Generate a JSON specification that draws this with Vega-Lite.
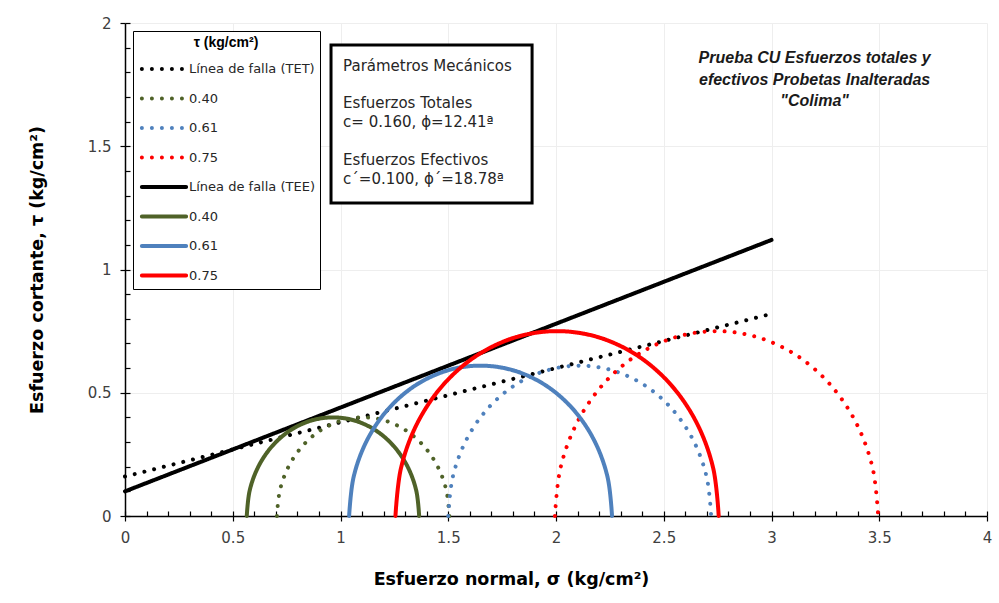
{
  "$schema": "https://vega.github.io/schema/vega-lite/v6.json",
  "width": 862,
  "height": 493,
  "autosize": {"type": "none"},
  "padding": {"left": 125, "top": 23, "right": 12, "bottom": 87},
  "background": "white",
  "config": {"view": {"stroke": null}, "font": "DejaVu Sans"},
  "datasets": {
    "lines": [
      {"s": "Línea de falla (TET)", "x": 0, "y": 0.16},
      {"s": "Línea de falla (TET)", "x": 3, "y": 0.82},
      {"s": "Línea de falla (TEE)", "x": 0, "y": 0.10},
      {"s": "Línea de falla (TEE)", "x": 3, "y": 1.12},
      {"s": "0.40 total", "x": 1.505, "y": 0},
      {"s": "0.40 total", "x": 1.4914, "y": 0.1035},
      {"s": "0.40 total", "x": 1.4514, "y": 0.2},
      {"s": "0.40 total", "x": 1.3878, "y": 0.2828},
      {"s": "0.40 total", "x": 1.305, "y": 0.3464},
      {"s": "0.40 total", "x": 1.2085, "y": 0.3864},
      {"s": "0.40 total", "x": 1.105, "y": 0.4},
      {"s": "0.40 total", "x": 1.0015, "y": 0.3864},
      {"s": "0.40 total", "x": 0.905, "y": 0.3464},
      {"s": "0.40 total", "x": 0.8222, "y": 0.2828},
      {"s": "0.40 total", "x": 0.7586, "y": 0.2},
      {"s": "0.40 total", "x": 0.7186, "y": 0.1035},
      {"s": "0.40 total", "x": 0.705, "y": 0},
      {"s": "0.61 total", "x": 2.72, "y": 0},
      {"s": "0.61 total", "x": 2.6992, "y": 0.1579},
      {"s": "0.61 total", "x": 2.6383, "y": 0.305},
      {"s": "0.61 total", "x": 2.5413, "y": 0.4313},
      {"s": "0.61 total", "x": 2.415, "y": 0.5283},
      {"s": "0.61 total", "x": 2.2679, "y": 0.5892},
      {"s": "0.61 total", "x": 2.11, "y": 0.61},
      {"s": "0.61 total", "x": 1.9521, "y": 0.5892},
      {"s": "0.61 total", "x": 1.805, "y": 0.5283},
      {"s": "0.61 total", "x": 1.6787, "y": 0.4313},
      {"s": "0.61 total", "x": 1.5817, "y": 0.305},
      {"s": "0.61 total", "x": 1.5208, "y": 0.1579},
      {"s": "0.61 total", "x": 1.5, "y": 0},
      {"s": "0.75 total", "x": 3.495, "y": 0},
      {"s": "0.75 total", "x": 3.4694, "y": 0.1941},
      {"s": "0.75 total", "x": 3.3945, "y": 0.375},
      {"s": "0.75 total", "x": 3.2753, "y": 0.5303},
      {"s": "0.75 total", "x": 3.12, "y": 0.6495},
      {"s": "0.75 total", "x": 2.9391, "y": 0.7244},
      {"s": "0.75 total", "x": 2.745, "y": 0.75},
      {"s": "0.75 total", "x": 2.5509, "y": 0.7244},
      {"s": "0.75 total", "x": 2.37, "y": 0.6495},
      {"s": "0.75 total", "x": 2.2147, "y": 0.5303},
      {"s": "0.75 total", "x": 2.0955, "y": 0.375},
      {"s": "0.75 total", "x": 2.0206, "y": 0.1941},
      {"s": "0.75 total", "x": 1.995, "y": 0},
      {"s": "0.40 efectivo", "x": 1.365, "y": 0},
      {"s": "0.40 efectivo", "x": 1.3514, "y": 0.1035},
      {"s": "0.40 efectivo", "x": 1.3114, "y": 0.2},
      {"s": "0.40 efectivo", "x": 1.2478, "y": 0.2828},
      {"s": "0.40 efectivo", "x": 1.165, "y": 0.3464},
      {"s": "0.40 efectivo", "x": 1.0685, "y": 0.3864},
      {"s": "0.40 efectivo", "x": 0.965, "y": 0.4},
      {"s": "0.40 efectivo", "x": 0.8615, "y": 0.3864},
      {"s": "0.40 efectivo", "x": 0.765, "y": 0.3464},
      {"s": "0.40 efectivo", "x": 0.6822, "y": 0.2828},
      {"s": "0.40 efectivo", "x": 0.6186, "y": 0.2},
      {"s": "0.40 efectivo", "x": 0.5786, "y": 0.1035},
      {"s": "0.40 efectivo", "x": 0.565, "y": 0},
      {"s": "0.61 efectivo", "x": 2.26, "y": 0},
      {"s": "0.61 efectivo", "x": 2.2392, "y": 0.1579},
      {"s": "0.61 efectivo", "x": 2.1783, "y": 0.305},
      {"s": "0.61 efectivo", "x": 2.0813, "y": 0.4313},
      {"s": "0.61 efectivo", "x": 1.955, "y": 0.5283},
      {"s": "0.61 efectivo", "x": 1.8079, "y": 0.5892},
      {"s": "0.61 efectivo", "x": 1.65, "y": 0.61},
      {"s": "0.61 efectivo", "x": 1.4921, "y": 0.5892},
      {"s": "0.61 efectivo", "x": 1.345, "y": 0.5283},
      {"s": "0.61 efectivo", "x": 1.2187, "y": 0.4313},
      {"s": "0.61 efectivo", "x": 1.1217, "y": 0.305},
      {"s": "0.61 efectivo", "x": 1.0608, "y": 0.1579},
      {"s": "0.61 efectivo", "x": 1.04, "y": 0},
      {"s": "0.75 efectivo", "x": 2.755, "y": 0},
      {"s": "0.75 efectivo", "x": 2.7294, "y": 0.1941},
      {"s": "0.75 efectivo", "x": 2.6545, "y": 0.375},
      {"s": "0.75 efectivo", "x": 2.5353, "y": 0.5303},
      {"s": "0.75 efectivo", "x": 2.38, "y": 0.6495},
      {"s": "0.75 efectivo", "x": 2.1991, "y": 0.7244},
      {"s": "0.75 efectivo", "x": 2.005, "y": 0.75},
      {"s": "0.75 efectivo", "x": 1.8109, "y": 0.7244},
      {"s": "0.75 efectivo", "x": 1.63, "y": 0.6495},
      {"s": "0.75 efectivo", "x": 1.4747, "y": 0.5303},
      {"s": "0.75 efectivo", "x": 1.3555, "y": 0.375},
      {"s": "0.75 efectivo", "x": 1.2806, "y": 0.1941},
      {"s": "0.75 efectivo", "x": 1.255, "y": 0}
    ],
    "box": [
      {"x1": 0.956, "x2": 1.889, "y1": 1.27, "y2": 1.911}
    ],
    "boxtext": [
      {"x": 1.012, "y": 1.8256, "text": "Parámetros Mecánicos"},
      {"x": 1.012, "y": 1.6755, "text": "Esfuerzos Totales\nc= 0.160, ϕ=12.41ª"},
      {"x": 1.012, "y": 1.4442, "text": "Esfuerzos Efectivos\nc´=0.100, ϕ´=18.78ª"}
    ],
    "title": [
      {"x": 3.2, "y": 1.858, "text": "Prueba CU Esfuerzos totales y\nefectivos Probetas Inalteradas\n\"Colima\""}
    ]
  },
  "resolve": {"axis": {"x": "independent", "y": "independent"}},
  "layer": [
    {
      "data": {"name": "lines"},
      "mark": {"type": "line", "strokeCap": "round", "interpolate": "cardinal"},
      "encoding": {
        "x": {
          "field": "x", "type": "quantitative",
          "scale": {"domain": [0, 4], "nice": false, "zero": false},
          "axis": {
            "orient": "bottom",
            "values": [0, 0.5, 1, 1.5, 2, 2.5, 3, 3.5, 4],
            "format": ".2~f",
            "tickSize": 5, "tickColor": "black", "tickWidth": 1.2,
            "domainColor": "black", "domainWidth": 1.5,
            "labelFontSize": 15, "labelColor": "#404040", "labelPadding": 9,
            "labelFlush": false, "labelOverlap": false,
            "grid": true, "gridColor": "#eeeeee", "gridWidth": 1,
            "title": "Esfuerzo normal, σ (kg/cm²)",
            "titleFontSize": 17.5, "titleFontWeight": "bold", "titleColor": "black",
            "titlePadding": 25, "titleX": 386
          }
        },
        "y": {
          "field": "y", "type": "quantitative",
          "scale": {"domain": [0, 2], "nice": false, "zero": false},
          "axis": {
            "orient": "left",
            "values": [0, 0.5, 1, 1.5, 2],
            "format": ".2~f",
            "tickSize": 5, "tickColor": "black", "tickWidth": 1.2,
            "domainColor": "black", "domainWidth": 1.5,
            "labelFontSize": 15, "labelColor": "#404040", "labelPadding": 9,
            "labelFlush": false, "labelOverlap": false,
            "grid": true, "gridColor": "#eeeeee", "gridWidth": 1,
            "title": "Esfuerzo cortante, τ (kg/cm²)",
            "titleFontSize": 17.5, "titleFontWeight": "bold", "titleColor": "black",
            "titlePadding": 41
          }
        },
        "color": {
          "field": "s", "type": "nominal",
          "scale": {
            "domain": ["Línea de falla (TET)", "0.40 total", "0.61 total", "0.75 total", "Línea de falla (TEE)", "0.40 efectivo", "0.61 efectivo", "0.75 efectivo"],
            "range": ["#000000", "#4F6228", "#4F81BD", "#FF0000", "#000000", "#4F6228", "#4F81BD", "#FF0000"]
          },
          "legend": {
            "title": "τ (kg/cm²)",
            "orient": "top-left",
            "offset": 8,
            "labelExpr": "replace(replace(datum.label, ' total', ''), ' efectivo', '')",
            "strokeColor": "black",
            "fillColor": "white",
            "padding": 5,
            "symbolType": "M-1.5,0H1.5",
            "symbolSize": 870,
            "symbolOffset": 9,
            "labelOffset": 8,
            "rowPadding": 4.5,
            "titlePadding": 2,
            "labelFontSize": 13,
            "labelColor": "#262626",
            "titleFontSize": 14,
            "titleFontWeight": "bold",
            "titleFont": "Liberation Sans",
            "titleAnchor": "middle",
            "titleColor": "black",
            "encode": {"symbols": {"update": {"strokeCap": {"value": "round"}, "fill": {"value": "transparent"}}}}
          }
        },
        "strokeDash": {
          "field": "s", "type": "nominal",
          "scale": {
            "domain": ["Línea de falla (TET)", "0.40 total", "0.61 total", "0.75 total", "Línea de falla (TEE)", "0.40 efectivo", "0.61 efectivo", "0.75 efectivo"],
            "range": [[0.01, 10], [0.01, 10], [0.01, 10], [0.01, 10], [1, 0], [1, 0], [1, 0], [1, 0]]
          }
        },
        "strokeWidth": {
          "field": "s", "type": "nominal",
          "scale": {
            "domain": ["Línea de falla (TET)", "0.40 total", "0.61 total", "0.75 total", "Línea de falla (TEE)", "0.40 efectivo", "0.61 efectivo", "0.75 efectivo"],
            "range": [4, 4, 4, 4, 3.5, 3.5, 3.5, 3.5]
          }
        }
      }
    },
    {
      "data": {"name": "box"},
      "mark": {"type": "rect", "fill": "white", "stroke": "black", "strokeWidth": 3},
      "encoding": {
        "x": {
          "field": "x1", "type": "quantitative",
          "scale": {"domain": [0, 4], "nice": false, "zero": false},
          "axis": {
            "orient": "bottom",
            "values": [0, 0.1, 0.2, 0.3, 0.4, 0.5, 0.6, 0.7, 0.8, 0.9, 1, 1.1, 1.2, 1.3, 1.4, 1.5, 1.6, 1.7, 1.8, 1.9, 2, 2.1, 2.2, 2.3, 2.4, 2.5, 2.6, 2.7, 2.8, 2.9, 3, 3.1, 3.2, 3.3, 3.4, 3.5, 3.6, 3.7, 3.8, 3.9, 4],
            "tickSize": -5, "tickColor": "black", "tickWidth": 1.2,
            "labels": false, "domain": false, "grid": false, "title": null
          }
        },
        "x2": {"field": "x2"},
        "y": {
          "field": "y1", "type": "quantitative",
          "scale": {"domain": [0, 2], "nice": false, "zero": false},
          "axis": {
            "orient": "left",
            "values": [0, 0.1, 0.2, 0.3, 0.4, 0.5, 0.6, 0.7, 0.8, 0.9, 1, 1.1, 1.2, 1.3, 1.4, 1.5, 1.6, 1.7, 1.8, 1.9, 2],
            "tickSize": -5, "tickColor": "black", "tickWidth": 1.2,
            "labels": false, "domain": false, "grid": false, "title": null
          }
        },
        "y2": {"field": "y2"}
      }
    },
    {
      "data": {"name": "boxtext"},
      "mark": {"type": "text", "align": "left", "baseline": "middle", "lineBreak": "\n", "lineHeight": 18.8, "fontSize": 15, "color": "#262626", "font": "DejaVu Sans"},
      "encoding": {
        "x": {"field": "x", "type": "quantitative", "axis": null},
        "y": {"field": "y", "type": "quantitative", "axis": null},
        "text": {"field": "text"}
      }
    },
    {
      "data": {"name": "title"},
      "mark": {"type": "text", "align": "center", "baseline": "middle", "lineBreak": "\n", "lineHeight": 21.5, "fontSize": 16, "fontStyle": "italic", "fontWeight": "bold", "color": "#1a1a1a", "font": "Liberation Sans"},
      "encoding": {
        "x": {"field": "x", "type": "quantitative", "axis": null},
        "y": {"field": "y", "type": "quantitative", "axis": null},
        "text": {"field": "text"}
      }
    }
  ]
}
